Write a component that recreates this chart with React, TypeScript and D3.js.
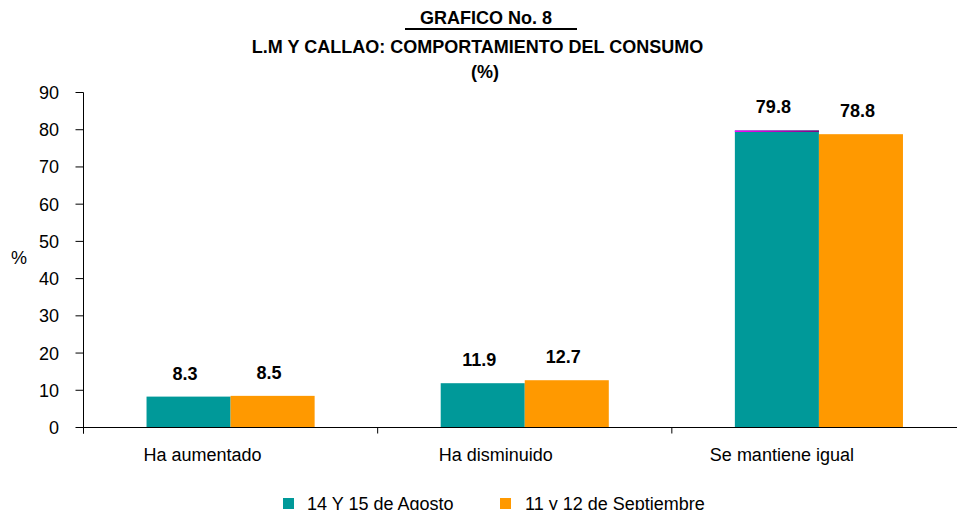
import React from "react";
import * as d3 from "d3";

const categories = ["Ha aumentado", "Ha disminuido", "Se mantiene igual"];
const seriesNames = ["14 Y 15 de Agosto", "11 y 12 de Septiembre"];
const agosto = [8.3, 11.9, 79.8];
const septiembre = [8.5, 12.7, 78.8];
const yTicks = [0, 10, 20, 30, 40, 50, 60, 70, 80, 90];
const colors = ["#009999", "#FF9900"];
const labelShift = [-28, -29, -37];

const W = 957;
const H = 510;
const FONT = "'Liberation Sans', Arial, Helvetica, sans-serif";
const FS = 18;

export default function App() {
  const values = [agosto, septiembre];
  const x = d3.scaleBand<string>().domain(categories).range([83.5, 966]).padding(0);
  const bw = x.bandwidth();
  const xs = d3.scaleBand<string>().domain(seriesNames).range([0, bw]).paddingInner(0).paddingOuter(0.75);
  const y = d3.scaleLinear().domain([0, 90]).range([427.5, 92.5]);
  const axisX = 83.5;
  const y0 = y(0);
  const boundaries = [...categories.map((c) => x(c)!), x(categories[categories.length - 1])! + bw];
  const iMax = agosto.indexOf(d3.max(agosto)!);
  const hx = x(categories[iMax])! + xs(seriesNames[0])!;

  return (
    <svg width={W} height={H} style={{ position: "absolute", left: 0, top: 0, display: "block", background: "#fff" }} fontFamily={FONT}>
      <defs>
        <linearGradient id="topline" x1="0" x2="1" y1="0" y2="0">
          <stop offset="0" stopColor="#FF00FF" />
          <stop offset="1" stopColor="#800080" />
        </linearGradient>
      </defs>
      {/* Title */}
      <text x={486} y={24} textAnchor="middle" fontSize={FS} fontWeight="bold" fill="#000">GRAFICO No. 8</text>
      <line x1={405} x2={577} y1={29} y2={29} stroke="#000" strokeWidth={2} />
      <text x={477.5} y={52.5} textAnchor="middle" fontSize={FS} fontWeight="bold" fill="#000">L.M Y CALLAO: COMPORTAMIENTO DEL CONSUMO</text>
      <text x={485} y={78} textAnchor="middle" fontSize={FS} fontWeight="bold" fill="#000">(%)</text>

      {/* Y axis */}
      <line x1={axisX} x2={axisX} y1={y(90)} y2={y0 + 6} stroke="#000" strokeWidth={1} />
      {yTicks.map((t) => (
        <g key={t}>
          <line x1={axisX - 8} x2={axisX} y1={y(t)} y2={y(t)} stroke="#000" strokeWidth={1} />
          <text x={59} y={y(t)} dy="0.36em" textAnchor="end" fontSize={FS} fill="#000">{t}</text>
        </g>
      ))}
      <text x={19} y={258} dy="0.36em" textAnchor="middle" fontSize={FS} fill="#000">%</text>

      {/* Bars */}
      {categories.map((c, i) => (
        <g key={c}>
          {seriesNames.map((s, j) => {
            const v = values[j][i];
            const bx = x(c)! + xs(s)!;
            return (
              <g key={s}>
                <rect x={bx} y={y(v)} width={xs.bandwidth()} height={y0 - y(v)} fill={colors[j]} />
                <text x={bx + xs.bandwidth() / 2 - 3.5} y={y(v) - 17} textAnchor="middle" fontSize={FS} fontWeight="bold" fill="#000">{v.toFixed(1)}</text>
              </g>
            );
          })}
        </g>
      ))}
      <rect x={hx} y={y(agosto[iMax])} width={xs.bandwidth()} height={1.5} fill="url(#topline)" />

      {/* X axis */}
      <line x1={axisX} x2={966} y1={y0} y2={y0} stroke="#000" strokeWidth={1.2} />
      {boundaries.map((b, i) => (
        <line key={i} x1={b} x2={b} y1={y0} y2={y0 + 6} stroke="#000" strokeWidth={1} />
      ))}
      {categories.map((c, i) => (
        <text key={c} x={x(c)! + bw / 2 + labelShift[i]} y={461} textAnchor="middle" fontSize={FS} fill="#000">{c}</text>
      ))}

      {/* Legend */}
      <rect x={283} y={498} width={11} height={11} fill={colors[0]} />
      <text x={307} y={509.5} fontSize={FS} fill="#000">{seriesNames[0]}</text>
      <rect x={500} y={498} width={11} height={11} fill={colors[1]} />
      <text x={525} y={509.5} fontSize={FS} fill="#000">{seriesNames[1]}</text>
    </svg>
  );
}
